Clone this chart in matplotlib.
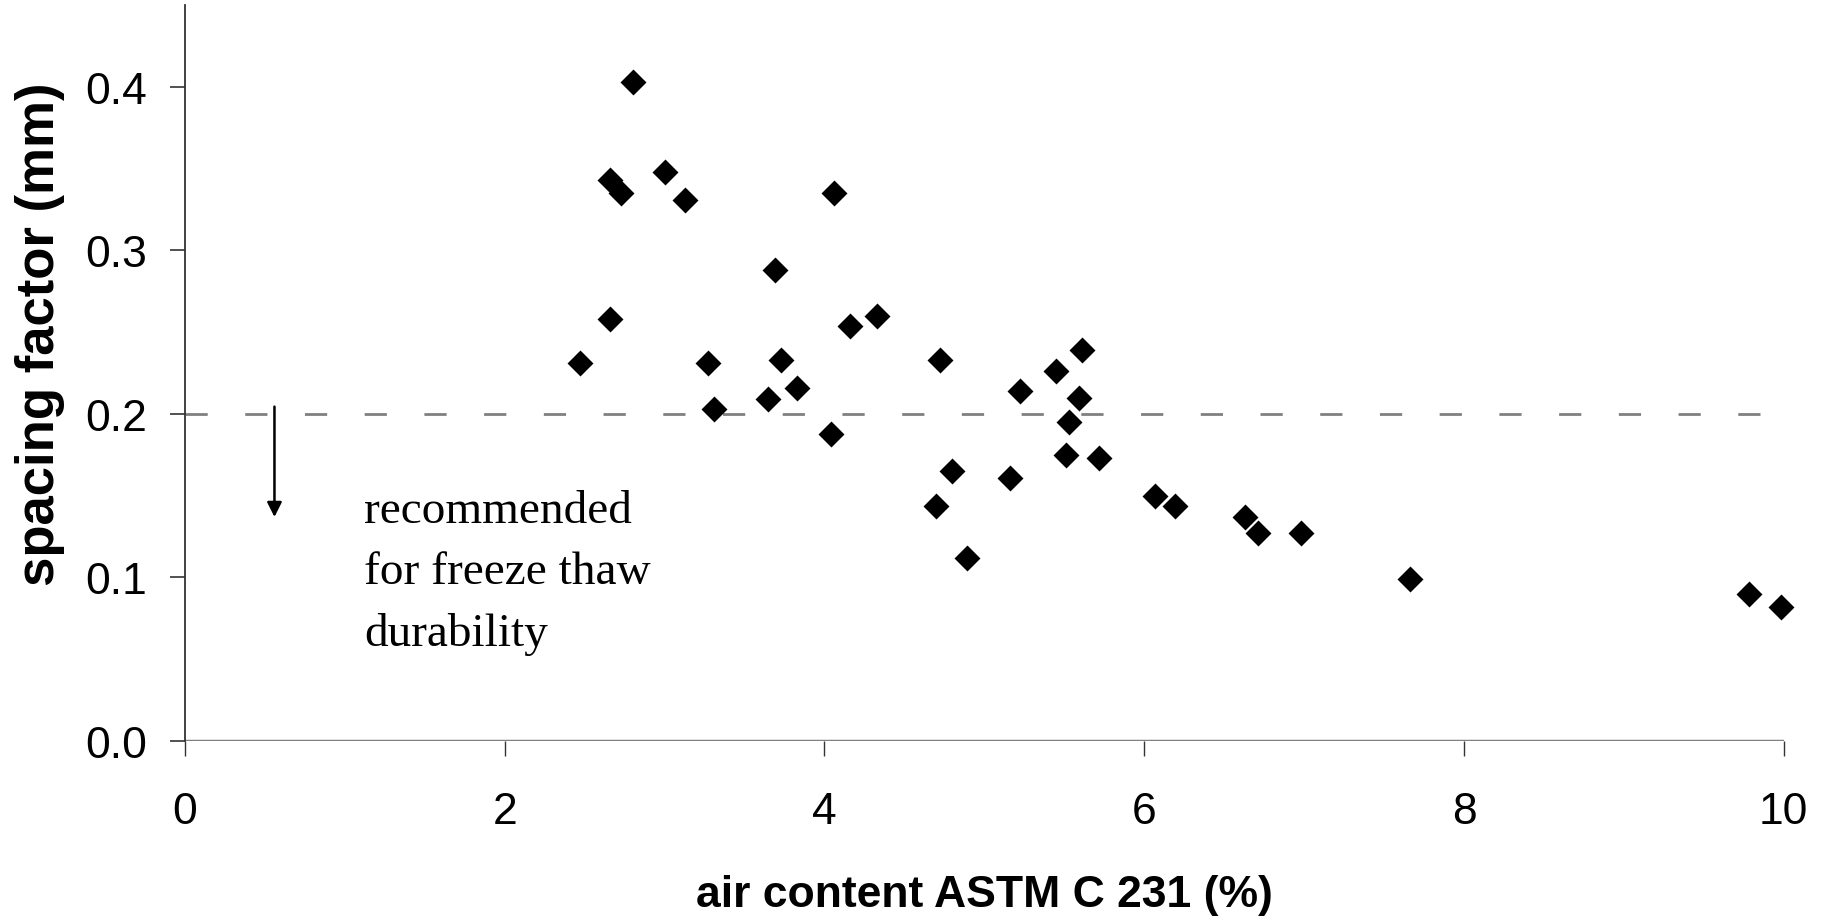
import matplotlib
matplotlib.use("Agg")
import matplotlib.pyplot as plt

# air content (%) vs spacing factor (mm)
air = [2.47, 2.66, 2.66, 2.73, 2.80, 3.00, 3.13, 3.27, 3.31, 3.65,
       3.69, 3.73, 3.83, 4.04, 4.06, 4.16, 4.33, 4.70, 4.72, 4.80,
       4.89, 5.16, 5.22, 5.45, 5.51, 5.53, 5.59, 5.61, 5.72, 6.07,
       6.19, 6.63, 6.71, 6.98, 7.66, 9.78, 9.98]
spacing = [0.231, 0.258, 0.343, 0.335, 0.403, 0.348, 0.331, 0.231, 0.203, 0.209,
           0.288, 0.233, 0.216, 0.188, 0.335, 0.254, 0.260, 0.144, 0.233, 0.165,
           0.112, 0.161, 0.214, 0.226, 0.175, 0.195, 0.210, 0.239, 0.173, 0.150,
           0.144, 0.137, 0.127, 0.127, 0.099, 0.090, 0.082]

limit = 0.2
xticks = [0, 2, 4, 6, 8, 10]
yticks = [0.0, 0.1, 0.2, 0.3, 0.4]

plt.rcParams['font.family'] = ['Liberation Sans', 'DejaVu Sans']

fig = plt.figure(figsize=(18.22, 9.2), dpi=100)
ax = fig.add_axes([0.1015, 0.1935, 0.8775, 0.7997])

ax.axhline(limit, color='#808080', lw=2, dashes=(8, 13.5), zorder=1)
ax.axhline(0, color='#808080', lw=2.5, zorder=2)
ax.scatter(air, spacing, marker='D', s=175, color='black', linewidths=0,
           zorder=3, clip_on=False)

# arrow + note
ax.annotate('', xy=(0.56, 0.137), xytext=(0.56, 0.2045),
            arrowprops=dict(arrowstyle='-|>', color='black', lw=1.8,
                            mutation_scale=22, shrinkA=0, shrinkB=0))
ax.text(1.12, 0.154, 'recommended\nfor freeze thaw\ndurability',
        family=['Liberation Serif', 'DejaVu Serif'], fontsize=34,
        va='top', ha='left', linespacing=1.58)

ax.set_xlim(0, 10)
ax.set_ylim(0, 0.45)
ax.set_xticks(xticks)
ax.set_yticks(yticks)
ax.set_xticklabels([str(v) for v in xticks], fontsize=32)
ax.set_yticklabels(['%.1f' % v for v in yticks], fontsize=32)

for s in ['top', 'right']:
    ax.spines[s].set_visible(False)
ax.spines['bottom'].set_visible(False)
ax.spines['left'].set_color('#333333')
ax.spines['left'].set_linewidth(1.3)

ax.tick_params(axis='y', direction='out', length=11, width=1.2, color='#333333', pad=16)
ax.tick_params(axis='x', direction='out', length=11, width=1.0, color='#333333', pad=25)

ax.set_xlabel('air content ASTM C 231 (%)', fontsize=32, fontweight='bold', labelpad=30)
fig.text(0.022, 0.637, 'spacing factor (mm)', rotation=90, fontsize=38,
         fontweight='bold', ha='center', va='center')

fig.savefig('out.png', dpi=100)
